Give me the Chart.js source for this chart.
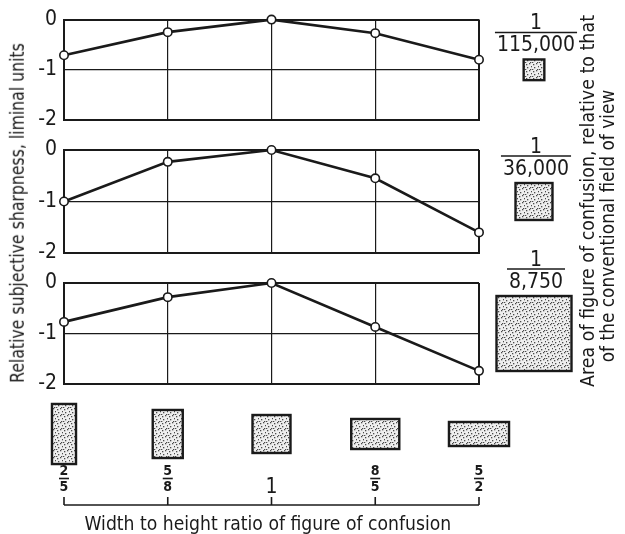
<!DOCTYPE html>
<html>
<head>
<meta charset="utf-8">
<script src="https://cdn.jsdelivr.net/npm/chart.js@4.4.1/dist/chart.umd.min.js"></script>
<style>
    html, body { margin: 0; padding: 0; background: #fff; }
    #wrap {
        position: relative; width: 625px; height: 534px; overflow: hidden;
        font-family: "DejaVu Sans Condensed", "DejaVu Sans", sans-serif; color: #1a1a1a;
    }
    #wrap canvas { position: absolute; left: 0; }
    .label { position: absolute; white-space: nowrap; font-size: 19px; line-height: 20px; transform-origin: center center; }
</style>
</head>
<body>
<div id="wrap">
    <canvas id="panel-small"  width="625" height="140" style="top:0px"></canvas>
    <canvas id="panel-medium" width="625" height="148" style="top:125px"></canvas>
    <canvas id="panel-large"  width="625" height="294" style="top:240px"></canvas>
    <div class="label" id="y-title">Relative subjective sharpness, liminal units</div>
    <div class="label" id="x-title">Width to height ratio of figure of confusion</div>
    <div class="label" id="r-title-1">Area of figure of confusion, relative to that</div>
    <div class="label" id="r-title-2">of the conventional field of view</div>
</div>
<script>
    "use strict";

    // Data
    const ratioLabels = ["2/5", "5/8", "1", "8/5", "5/2"];
    const ratioValues = [0.4, 0.625, 1, 1.6, 2.5];
    const areaLabels  = ["115,000", "36,000", "8,750"];
    const areaDenoms  = [115000, 36000, 8750];
    const sharpSmall  = [-0.71, -0.25, 0, -0.27, -0.80];
    const sharpMedium = [-1.00, -0.23, 0, -0.55, -1.60];
    const sharpLarge  = [-0.77, -0.28, 0, -0.87, -1.74];
    const yTicks      = [0, -1, -2];

    const INK  = "#1a1a1a";
    const FONT = '"DejaVu Sans Condensed", "DejaVu Sans", sans-serif';

    // stipple fill used for the figures of confusion
    function stipple(ctx) {
        const tile = document.createElement("canvas");
        tile.width = 7; tile.height = 7;
        const t = tile.getContext("2d");
        t.fillStyle = "#eeeeee";
        t.fillRect(0, 0, 7, 7);
        t.fillStyle = "#4a4a4a";
        [[1, 1], [4, 0], [6, 3], [2, 4], [5, 6], [0, 6]].forEach(([x, y]) => t.fillRect(x, y, 1.3, 1.3));
        return ctx.createPattern(tile, "repeat");
    }

    function drawBox(ctx, cx, cy, w, h) {
        ctx.save();
        ctx.fillStyle = stipple(ctx);
        ctx.fillRect(cx - w / 2, cy - h / 2, w, h);
        ctx.lineWidth = 2.4;
        ctx.strokeStyle = INK;
        ctx.strokeRect(cx - w / 2, cy - h / 2, w, h);
        ctx.restore();
    }

    // fraction "1 / denom" and square sized by relative area, right of each panel
    const areaBadge = {
        id: "areaBadge",
        afterDraw(chart, args, opts) {
            const { ctx, chartArea } = chart;
            const side = 7016 / Math.sqrt(areaDenoms[opts.idx]);
            const cx = chartArea.right + 55;
            const cy = (chartArea.top + chartArea.bottom) / 2;
            drawBox(ctx, cx, cy, side, side);

            const base = cy - side / 2 - 8;
            const label = areaLabels[opts.idx];
            ctx.save();
            ctx.fillStyle = INK;
            ctx.strokeStyle = INK;
            ctx.font = "21px " + FONT;
            ctx.textAlign = "center";
            ctx.textBaseline = "alphabetic";
            const tx = cx + 2;
            ctx.fillText(label, tx, base);
            const w = ctx.measureText(label).width + 4;
            ctx.lineWidth = 1.4;
            ctx.beginPath();
            ctx.moveTo(tx - w / 2, base - 19);
            ctx.lineTo(tx + w / 2, base - 19);
            ctx.stroke();
            ctx.fillText("1", tx, base - 22);
            ctx.restore();
        }
    };

    // width/height figures, ratio fractions and bracket under the last panel
    const ratioAxis = {
        id: "ratioAxis",
        afterDraw(chart) {
            const { ctx, chartArea } = chart;
            const x = chart.scales.x;
            const b = chartArea.bottom;
            ctx.save();
            ratioValues.forEach((r, i) => {
                const px = x.getPixelForValue(i);
                drawBox(ctx, px, b + 50, 38 * Math.sqrt(r), 38 / Math.sqrt(r));

                ctx.fillStyle = INK;
                ctx.strokeStyle = INK;
                ctx.textAlign = "center";
                ctx.textBaseline = "middle";
                const parts = ratioLabels[i].split("/");
                if (parts.length === 2) {
                    ctx.font = "bold 14px " + FONT;
                    ctx.fillText(parts[0], px, b + 87);
                    ctx.fillText(parts[1], px, b + 103);
                    ctx.lineWidth = 1.6;
                    ctx.beginPath();
                    ctx.moveTo(px - 5, b + 94.5);
                    ctx.lineTo(px + 5, b + 94.5);
                    ctx.stroke();
                } else {
                    ctx.font = "21px " + FONT;
                    ctx.fillText(parts[0], px, b + 104);
                }
                // bracket ticks
                ctx.lineWidth = 1.6;
                ctx.beginPath();
                ctx.moveTo(px, b + 113);
                ctx.lineTo(px, b + 121);
                ctx.stroke();
            });
            ctx.beginPath();
            ctx.moveTo(x.getPixelForValue(0), b + 121);
            ctx.lineTo(x.getPixelForValue(ratioValues.length - 1), b + 121);
            ctx.stroke();
            ctx.restore();
        }
    };

    function makePanel(id, values, idx, padTop, padBottom, extra) {
        const last = ratioValues.length - 1;
        return new Chart(document.getElementById(id), {
            type: "line",
            data: {
                datasets: [{
                    data: values.map((v, i) => ({ x: i, y: v })),
                    borderColor: INK,
                    borderWidth: 2.6,
                    tension: 0,
                    pointRadius: 4.2,
                    pointBackgroundColor: "#fff",
                    pointBorderColor: INK,
                    pointBorderWidth: 1.6,
                    clip: false
                }]
            },
            options: {
                responsive: false,
                animation: false,
                events: [],
                layout: { padding: { top: padTop, bottom: padBottom, left: 0, right: 146 } },
                plugins: {
                    legend: { display: false },
                    tooltip: { enabled: false },
                    areaBadge: { idx: idx }
                },
                scales: {
                    x: {
                        type: "linear",
                        min: 0,
                        max: last,
                        afterBuildTicks: (s) => { s.ticks = ratioValues.map((_, i) => ({ value: i })); },
                        afterFit: (s) => { s.height = 0; },
                        ticks: { display: false },
                        grid: { color: INK, lineWidth: (c) => (c.index === 0 || c.index === last) ? 2 : 1.2, drawTicks: false },
                        border: { color: INK, width: 2 }
                    },
                    y: {
                        min: -2,
                        max: 0,
                        afterBuildTicks: (s) => { s.ticks = yTicks.map((v) => ({ value: v })); },
                        afterFit: (s) => { s.width = 64; },
                        ticks: {
                            color: INK,
                            padding: 7,
                            font: { family: FONT, size: 21 },
                            callback: (v) => v === 0 ? "0" : "-" + Math.abs(v)
                        },
                        grid: { color: INK, lineWidth: (c) => (c.index === 0 || c.index === yTicks.length - 1) ? 2 : 1.2, drawTicks: false },
                        border: { color: INK, width: 2 }
                    }
                }
            },
            plugins: [areaBadge].concat(extra || [])
        });
    }

    makePanel("panel-small", sharpSmall, 0, 18, 20);
    makePanel("panel-medium", sharpMedium, 1, 25, 20);
    makePanel("panel-large", sharpLarge, 2, 43, 150, [ratioAxis]);

    // stretch the axis titles to the length they have in the figure
    function place(id, cx, cy, len, rot) {
        const el = document.getElementById(id);
        const w = el.offsetWidth, h = el.offsetHeight;
        el.style.left = (cx - w / 2) + "px";
        el.style.top = (cy - h / 2) + "px";
        el.style.transform = "rotate(" + rot + "deg) scaleX(" + (len / w) + ")";
    }
    place("y-title", 17, 213, 340, -90);
    place("x-title", 268, 523, 367, 0);
    place("r-title-1", 587, 201, 372, -90);
    place("r-title-2", 607, 226, 273, -90);
</script>
</body>
</html>
